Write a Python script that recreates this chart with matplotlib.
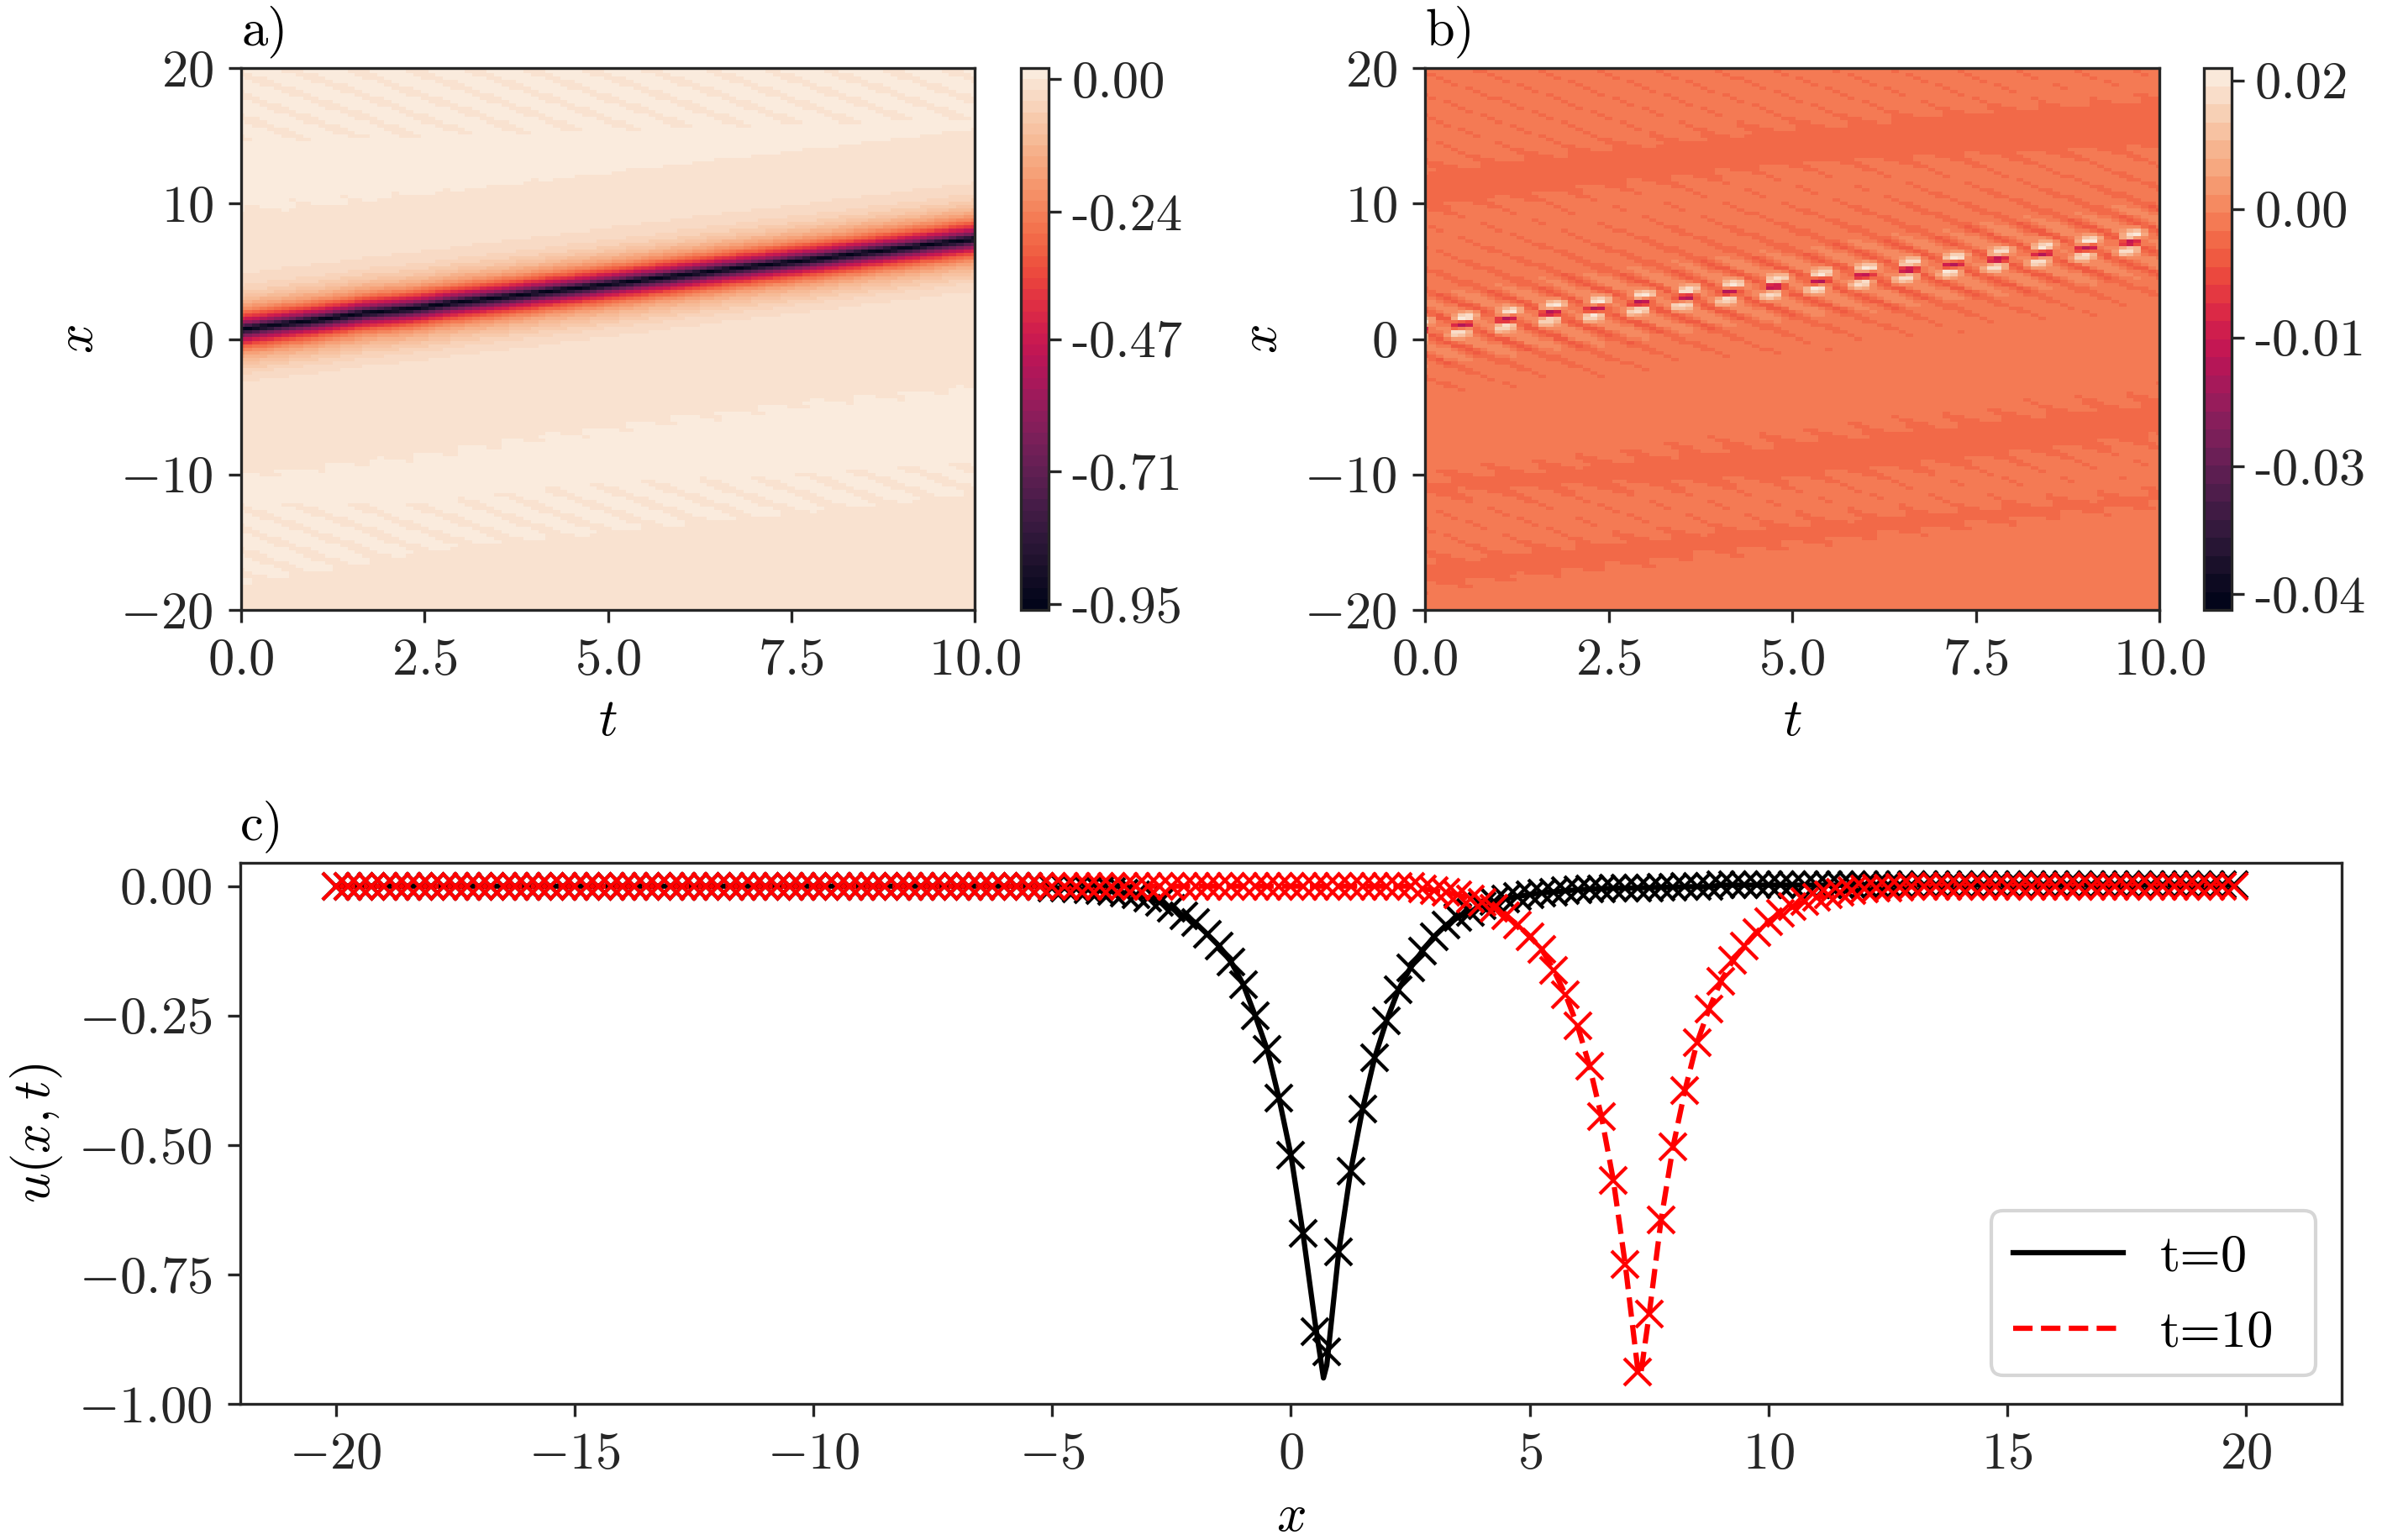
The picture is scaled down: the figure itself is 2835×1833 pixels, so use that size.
import numpy as np
import matplotlib
matplotlib.use('Agg')
import matplotlib.pyplot as plt
from matplotlib.colors import BoundaryNorm
from matplotlib.patches import FancyBboxPatch
from matplotlib.transforms import IdentityTransform
import seaborn as sns

plt.rcParams['font.family'] = ['cmr10', 'DejaVu Sans']
plt.rcParams['mathtext.fontset'] = 'cm'
plt.rcParams['axes.unicode_minus'] = False
plt.rcParams['axes.formatter.use_mathtext'] = True
plt.rcParams['font.size'] = 15
plt.rcParams['axes.edgecolor'] = '#262626'
plt.rcParams['xtick.color'] = '#262626'
plt.rcParams['ytick.color'] = '#262626'
plt.rcParams['xtick.major.pad'] = 4.5
plt.rcParams['ytick.major.pad'] = 4.5

W, H = 2835, 1833

# --- panel c, values, markers every 0.25 in x
x_pred = np.arange(-20, 20, 0.25)
u0_left_tail = [0.0] * 60
u0_mid = [-0.003, -0.004, -0.005, -0.007, -0.008, -0.010, -0.013, -0.017, -0.023, -0.031,
          -0.042, -0.057, -0.071, -0.093, -0.116, -0.147, -0.19, -0.25, -0.315, -0.41,
          -0.52, -0.67, -0.86, -0.90, -0.706, -0.55, -0.43, -0.332, -0.26, -0.20,
          -0.158, -0.125, -0.097, -0.075, -0.06, -0.05, -0.038, -0.03, -0.024, -0.02,
          -0.016, -0.013, -0.011, -0.009, -0.007, -0.006, -0.005, -0.004, -0.004, -0.003,
          -0.003, -0.002, -0.002, -0.001, -0.001, -0.001]
u0_right_tail = [0.002] * (160 - 60 - 56)
u0_pred = np.array(u0_left_tail + u0_mid + u0_right_tail)

u10_left_tail = [0.0] * 91
u10_mid = [-0.005, -0.008, -0.012, -0.017, -0.024, -0.031, -0.042, -0.057, -0.075, -0.097,
           -0.122, -0.162, -0.21, -0.27, -0.347, -0.445, -0.568, -0.731, -0.938, -0.827,
           -0.644, -0.503, -0.394, -0.303, -0.238, -0.184, -0.144, -0.115, -0.089, -0.068,
           -0.052, -0.04, -0.03, -0.022, -0.017, -0.012, -0.008, -0.006, -0.004, -0.003,
           -0.002, -0.001]
u10_right_tail = [0.0] * (160 - 91 - 42)
u10_pred = np.array(u10_left_tail + u10_mid + u10_right_tail)

# true curves: same readings plus the trough point
peak0_x, peak0_u = 0.68, -0.95
peak10_x, peak10_u = 7.32, -0.945
x_line0 = np.insert(x_pred, np.searchsorted(x_pred, peak0_x), peak0_x)
u_line0 = np.insert(u0_pred, np.searchsorted(x_pred, peak0_x), peak0_u)
u_line0[np.isclose(x_line0, 0.5)] = -0.84
u_line0[np.isclose(x_line0, 0.75)] = -0.925
x_line10 = np.insert(x_pred, np.searchsorted(x_pred, peak10_x), peak10_x)
u_line10 = np.insert(u10_pred, np.searchsorted(x_pred, peak10_x), peak10_u)
u_line10[np.isclose(x_line10, 7.25)] = -0.925

# --- panels a and b, readings used to fill the t-x cells
# soliton core positions, one per ripple spike seen in panel b
spike_t = [-0.10, 0.51, 1.12, 1.72, 2.33, 2.94, 3.55, 4.15, 4.76, 5.37, 5.98, 6.58, 7.19, 7.80, 8.40, 9.01, 9.61, 10.22]
spike_x = [0.62, 1.03, 1.44, 1.92, 2.22, 2.69, 3.06, 3.47, 3.86, 4.28, 4.69, 5.11, 5.50, 5.89, 6.31, 6.72, 7.14, 7.54]

# slanted ripple: one period of the stripe, and its strength away from the core
wave_phase = [0.0, 0.125, 0.25, 0.375, 0.5, 0.625, 0.75, 0.875]
wave_value = [-1.0, -0.35, 0.3, 0.5, 0.5, 0.4, 0.1, -0.55]
stripe_spacing = 1.6
amp_offset = [-30, -20, -16, -11, -10, -8, -6, -5, -4, -3, -2, -1, 0, 1, 2, 3, 4, 5, 6, 8, 11, 12, 30]
amp_b = [0.0003, 0.0004, 0.0009, 0.0009, 0.0005, 0.0003, 0.0005, 0.0008, 0.0012, 0.0026, 0.0045, 0.005, 0.003,
         0.005, 0.004, 0.0028, 0.0018, 0.0012, 0.0009, 0.0008, 0.0005, 0.0009, 0.0012]

# spike core: dark centre and pale flanks across the soliton, each with its share of a period
core_offset = [-1.3, -1.0, -0.7, -0.45, -0.25, -0.1, 0.1, 0.25, 0.45, 0.7, 1.0, 1.3]
dark_value = [0.0, 0.0, 0.0, 0.0, -0.002, -0.0135, -0.0135, -0.002, 0.0, 0.0, 0.0, 0.0]
pale_value = [0.0, 0.003, 0.012, 0.016, 0.002, 0.0, 0.0, 0.002, 0.017, 0.012, 0.003, 0.0]
win_phase = [0.0, 0.1, 0.2, 0.3, 0.4, 0.5, 0.6, 0.7, 0.8, 0.9]
dark_win = [1.0, 1.0, 0.6, 0.0, 0.0, 0.0, 0.0, 0.0, 0.6, 1.0]
pale_win = [1.0, 1.0, 0.7, 0.15, 0.0, 0.0, 0.0, 0.15, 0.7, 1.0]

# band edges at these times, panel a has pale bands, panel b darker bands
band_t = [0.0, 2.5, 5.0, 7.5, 10.0]
a_bands = [([9.5, 10.5, 11.8, 13.0, 14.2], [30.0, 30.0, 30.0, 30.0, 30.0]),
           ([-18.0, -15.5, -14.1, -12.7, -11.3], [-10.1, -8.6, -6.6, -4.9, -3.6])]
a_tooth_upper = [14.5, 15.0, 15.4, 15.8, 16.2]
a_tooth_lower = [-12.0, -12.0, -10.5, -10.0, -9.0]
b_bands = [([9.5, 11.2, 12.8, 13.4, 14.0], [12.6, 14.2, 15.75, 16.8, 17.8]),
           ([-11.6, -11.0, -10.5, -9.0, -7.4], [-10.2, -8.8, -7.4, -5.9, -4.4]),
           ([-18.3, -16.8, -15.2, -13.7, -12.2], [-16.3, -14.9, -13.5, -12.4, -11.3])]

a_ticks = [0.0, -0.24, -0.47, -0.71, -0.95]
a_ticklabels = ['0.00', '-0.24', '-0.47', '-0.71', '-0.95']
b_ticks = [0.0183, 0.00265, -0.0130, -0.0287, -0.0443]
b_ticklabels = ['0.02', '0.00', '-0.01', '-0.03', '-0.04']

t_cells = np.arange(0, 10.05, 0.1)
x_cells = np.arange(-20, 20.01, 0.25)
T, X = np.meshgrid(t_cells, x_cells)

center = np.interp(T, spike_t, spike_x)
offset = X - center
phase = np.interp(T, spike_t, np.arange(len(spike_t)))


def band_distance(bands):
    # positive inside a band, negative outside
    d = np.full(T.shape, -99.0)
    for low, high in bands:
        lo = np.interp(T, band_t, low)
        hi = np.interp(T, band_t, high)
        d = np.maximum(d, np.minimum(X - lo, hi - X))
    return d


stripes = np.interp(phase + offset / stripe_spacing, wave_phase, wave_value, period=1)
core = (np.interp(offset, core_offset, dark_value) * np.interp(phase, win_phase, dark_win, period=1)
        + np.interp(offset, core_offset, pale_value) * np.interp(phase - 0.1 * offset, win_phase, pale_win, period=1))

# panel a: teeth only in the outer part of the pale bands
dist_a = band_distance(a_bands)
toothed = (X > np.interp(T, band_t, a_tooth_upper)) | (X < np.interp(T, band_t, a_tooth_lower))
amp_a = np.where(toothed & (dist_a > 0), 0.0075, 0.0003)
amp_a[np.abs(offset) < 6] = 0.0

profile = np.interp(offset, x_line0 - peak0_x, np.minimum(u_line0, 0))
z_a = profile + np.clip(dist_a * 0.0006, -0.0015, 0.0015) + stripes * amp_a
z_b = (-np.clip(band_distance(b_bands) * 0.0009, -0.0007, 0.0007)
       + stripes * np.interp(offset, amp_offset, amp_b) + core)

levels_a = 0.02 * np.arange(-48, 2)
levels_b = 0.0022 * np.arange(-21, 10)
rocket = sns.color_palette('rocket', as_cmap=True)


def px_axes(left, top, right, bottom):
    return plt.gcf().add_axes([left / W, 1 - bottom / H, (right - left) / W, (bottom - top) / H])


fig = plt.figure(figsize=(W / 300, H / 300), dpi=300)

ax_a = px_axes(287, 81, 1160, 726)
ax_b = px_axes(1696, 81, 2570, 726)
cax_a = px_axes(1215, 81, 1248, 726)
cax_b = px_axes(2623, 81, 2656, 726)
ax_c = px_axes(286, 1027, 2787, 1671)

panels = [(ax_a, cax_a, z_a, levels_a, a_ticks, a_ticklabels, 'a)'),
          (ax_b, cax_b, z_b, levels_b, b_ticks, b_ticklabels, 'b)')]
for ax, cax, z, levels, cticks, clabels, name in panels:
    mesh = ax.pcolormesh(t_cells, x_cells, z, cmap=rocket, norm=BoundaryNorm(levels, 256), shading='nearest', rasterized=True)
    ax.set_xlim(0, 10)
    ax.set_ylim(-20, 20)
    ax.set_xticks([0, 2.5, 5, 7.5, 10])
    ax.set_xticklabels(['$0.0$', '$2.5$', '$5.0$', '$7.5$', '$10.0$'])
    ax.set_yticks([-20, -10, 0, 10, 20])
    ax.set_yticklabels(['$-20$', '$-10$', '$0$', '$10$', '$20$'])
    ax.set_xlabel('$t$', labelpad=4)
    ax.set_ylabel('$x$', labelpad=5)
    ax.set_title(name, loc='left', fontsize=15, pad=6.5)
    cbar = fig.colorbar(mesh, cax=cax, spacing='proportional', drawedges=False)
    cbar.set_ticks(cticks)
    cbar.set_ticklabels(clabels)
    cbar.ax.minorticks_off()
    cbar.ax.tick_params(pad=3)

ax_c.plot(x_line0, u_line0, color='black', lw=1.5, label='t=0')
ax_c.plot(x_line10, u_line10, color='red', lw=1.5, ls='--', label='t=10')
ax_c.plot(x_pred, u0_pred, 'x', color='black', ms=7.5)
ax_c.plot(x_pred, u10_pred, 'x', color='red', ms=7.5)
ax_c.set_xlim(-22, 22)
ax_c.set_ylim(-1.0, 0.045)
ax_c.set_xticks([-20, -15, -10, -5, 0, 5, 10, 15, 20])
ax_c.set_xticklabels(['$-20$', '$-15$', '$-10$', '$-5$', '$0$', '$5$', '$10$', '$15$', '$20$'])
ax_c.set_yticks([0, -0.25, -0.5, -0.75, -1.0])
ax_c.set_yticklabels(['$0.00$', '$-0.25$', '$-0.50$', '$-0.75$', '$-1.00$'])
ax_c.set_xlabel('$x$', labelpad=4.5)
ax_c.set_ylabel('$u(x,t)$')
ax_c.set_title('c)', loc='left', fontsize=15, pad=6.5)

# legend frame is wider on the right than the text needs, so it is drawn apart
frame = FancyBboxPatch((2370, H - 1637), 386, 196, boxstyle='round,pad=0,rounding_size=14',
                       transform=IdentityTransform(), fc='white', ec='0.8', lw=1.0, alpha=0.8, zorder=4)
ax_c.add_patch(frame)
leg = ax_c.legend(loc='lower right', bbox_to_anchor=(1 - 24 / 2501, 0), frameon=False,
                  handlelength=2.1, handletextpad=0.7, labelspacing=0.55)
leg.set_zorder(5)

fig.savefig('out.png', dpi=300)
